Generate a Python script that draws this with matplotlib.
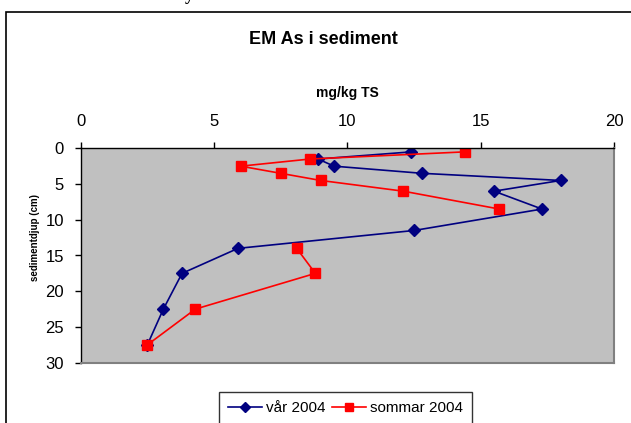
import numpy as np
import matplotlib.pyplot as plt
from matplotlib.patches import Rectangle

plt.rcParams['font.family'] = ['Liberation Sans', 'DejaVu Sans']

# depth (cm) and concentration (mg/kg TS)
depth = [0.5, 1.5, 2.5, 3.5, 4.5, 6, 8.5, 11.5, 14, 17.5, 22.5, 27.5]
var_2004 = [12.4, 8.9, 9.5, 12.8, 18.0, 15.5, 17.3, 12.5, 5.9, 3.8, 3.1, 2.5]
sommar_2004 = [14.4, 8.6, 6.0, 7.5, 9.0, 12.1, 15.7, np.nan, 8.1, 8.8, 4.3, 2.5]

x_ticks = [0, 5, 10, 15, 20]
y_ticks = [0, 5, 10, 15, 20, 25, 30]

fig = plt.figure(figsize=(6.31, 4.23), dpi=100)

# outer chart frame
fig.patches.append(Rectangle((6 / 631, -0.05), 1.1, 1 - 12 / 423 + 0.05,
                             transform=fig.transFigure, fill=False,
                             edgecolor='black', linewidth=1.2))
fig.text(185 / 631, 1.0, "y", fontsize=13, fontweight='bold',
         family='Liberation Serif', va='baseline', ha='left')

ax = fig.add_axes([80.7 / 631, 1 - 362.7 / 423, (614 - 80.7) / 631, (362.7 - 148.3) / 423])
ax.set_facecolor('#C0C0C0')

ax.plot(var_2004, depth, color='#000080', marker='D', markersize=6,
        linewidth=1.2, label='vår 2004')
ax.plot(sommar_2004, depth, color='#FF0000', marker='s', markersize=7,
        linewidth=1.2, label='sommar 2004')

ax.set_xlim(0, 20)
ax.set_ylim(30, 0)
ax.set_xticks(x_ticks)
ax.set_yticks(y_ticks)
ax.xaxis.tick_top()
ax.tick_params(axis='both', direction='out', length=4, width=1, labelsize=12)
ax.tick_params(axis='x', pad=10)
ax.tick_params(axis='y', pad=8)
for s in ['bottom', 'right']:
    ax.spines[s].set_color('#808080')
    ax.spines[s].set_linewidth(1.5)
for s in ['top', 'left']:
    ax.spines[s].set_linewidth(1)

fig.text(323.5 / 631, 1 - 39 / 423, "EM As i sediment", fontsize=13, fontweight='bold',
         ha='center', va='center')
fig.text(347.5 / 631, 1 - 93 / 423, "mg/kg TS", fontsize=10, fontweight='bold',
         ha='center', va='center')
fig.text(35.5 / 631, 1 - 237 / 423, "sedimentdjup (cm)", fontsize=7, fontweight='bold',
         family=['Liberation Sans Narrow', 'Liberation Sans'],
         ha='center', va='center', rotation=90)

fig.legend(loc='upper left', bbox_to_anchor=(219 / 631, 1 - 392 / 423), ncol=2,
           fontsize=11, frameon=True, fancybox=False, edgecolor='black',
           handlelength=2.2, columnspacing=0.4, handletextpad=0.3,
           borderpad=0.6, borderaxespad=0, markerscale=0.85)

fig.savefig("out.png", dpi=100)
